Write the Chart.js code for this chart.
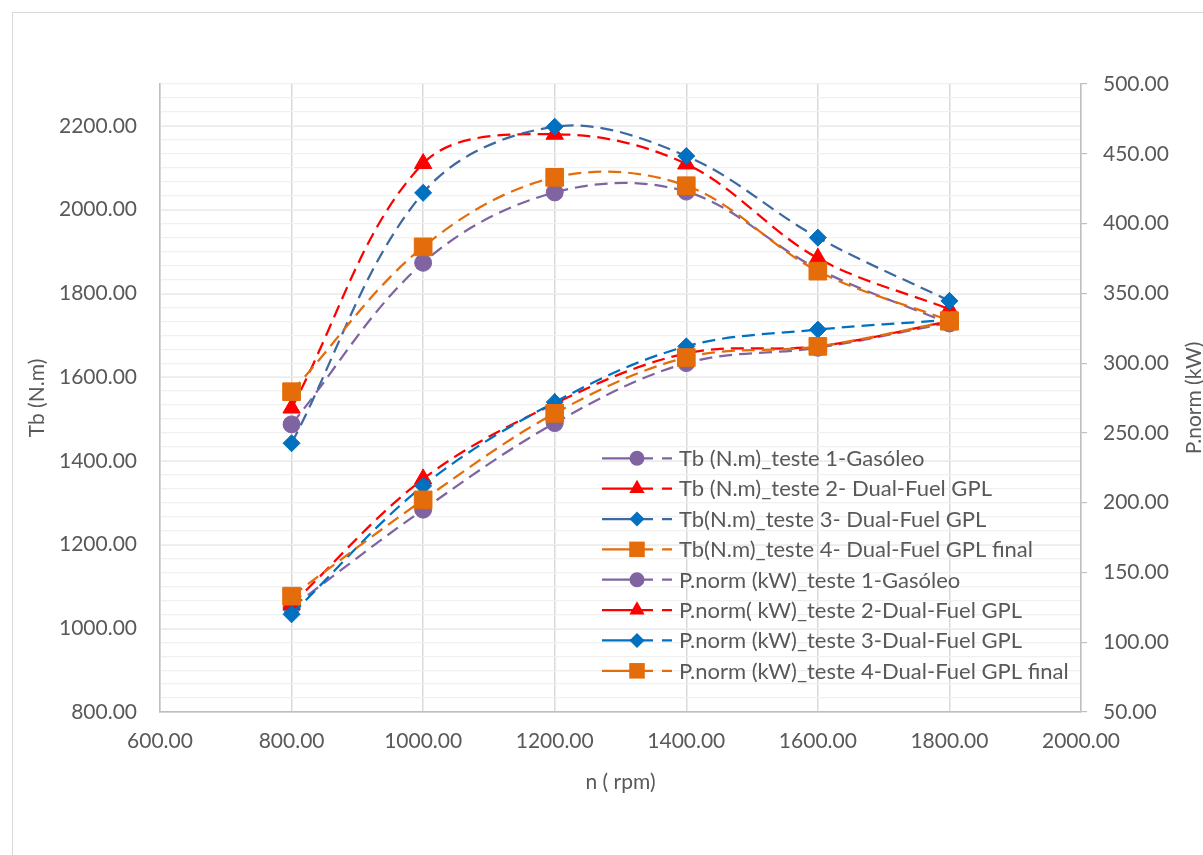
<!DOCTYPE html>
<html>
<head>
<meta charset="utf-8">
<script src="https://cdn.jsdelivr.net/npm/chart.js@4.4.0/dist/chart.umd.min.js"></script>
<style>
  body { margin: 0; background: #fff; }
  canvas { display: block; }
</style>
</head>
<body>
<canvas id="chart" width="1203" height="855"></canvas>
<script>
// rotação (rpm)
const rpm = [800, 1000, 1200, 1400, 1600, 1800];

// binário Tb (N.m) - eixo esquerdo
const tbTeste1 = [1487, 1873, 2041, 2043, 1858, 1728];
const tbTeste2 = [1526, 2110, 2180, 2109, 1884, 1762];
const tbTeste3 = [1442, 2040, 2198, 2128, 1933, 1782];
const tbTeste4 = [1565, 1911, 2077, 2057, 1853, 1735];

// potência P.norm (kW) - eixo direito
const pTeste1 = [125, 195, 257, 300, 311, 329];
const pTeste2 = [127, 217, 271, 307, 312, 330];
const pTeste3 = [120, 212, 272, 312, 324, 331];
const pTeste4 = [133, 202, 264, 304, 312, 330];

const nomes = [
    'Tb (N.m)_teste 1-Gasóleo',
    'Tb (N.m)_teste 2- Dual-Fuel GPL',
    'Tb(N.m)_teste 3- Dual-Fuel GPL',
    'Tb(N.m)_teste 4- Dual-Fuel GPL final',
    'P.norm (kW)_teste 1-Gasóleo',
    'P.norm( kW)_teste 2-Dual-Fuel GPL',
    'P.norm (kW)_teste 3-Dual-Fuel GPL',
    'P.norm (kW)_teste 4-Dual-Fuel GPL final'
];

const FONT = 'Lato';
const TXT = '#595959';

const roxo = '#8064a2';
const vermelho = '#ff0000';
const azulEsc = '#3d69a0';
const azul = '#0070c0';
const laranja = '#e46c0a';

function serie(idx, values, axis, line, marker, style, radius) {
    return {
        label: nomes[idx],
        data: values.map((v, i) => ({ x: rpm[i], y: v })),
        yAxisID: axis,
        borderColor: line,
        borderWidth: 2.25,
        borderDash: [13, 7],
        backgroundColor: marker,
        pointStyle: style,
        pointRadius: radius,
        pointHoverRadius: radius,
        pointBackgroundColor: marker,
        pointBorderColor: marker,
        pointBorderWidth: 1,
        tension: 0.35,
        fill: false,
        order: 8 - idx
    };
}

const datasets = [
    serie(0, tbTeste1, 'y', roxo, roxo, 'circle', 8.5),
    serie(1, tbTeste2, 'y', vermelho, vermelho, 'triangle', 10),
    serie(2, tbTeste3, 'y', azulEsc, azul, 'rectRot', 8.5),
    serie(3, tbTeste4, 'y', laranja, laranja, 'rect', 12.5),
    serie(4, pTeste1, 'y1', roxo, roxo, 'circle', 8.5),
    serie(5, pTeste2, 'y1', vermelho, vermelho, 'triangle', 10),
    serie(6, pTeste3, 'y1', azul, azul, 'rectRot', 8.5),
    serie(7, pTeste4, 'y1', laranja, laranja, 'rect', 12.5)
];

function marcador(ctx, style, x, y, r, color) {
    ctx.save();
    ctx.fillStyle = color;
    ctx.beginPath();
    if (style === 'circle') {
        ctx.arc(x, y, r, 0, Math.PI * 2);
    } else if (style === 'triangle') {
        const a = Math.PI * 2 / 3;
        ctx.moveTo(x, y - r);
        ctx.lineTo(x + Math.sin(a) * r, y - Math.cos(a) * r);
        ctx.lineTo(x - Math.sin(a) * r, y - Math.cos(a) * r);
    } else if (style === 'rectRot') {
        ctx.moveTo(x - r, y);
        ctx.lineTo(x, y - r);
        ctx.lineTo(x + r, y);
        ctx.lineTo(x, y + r);
    } else {
        const s = r * Math.SQRT1_2;
        ctx.rect(x - s, y - s, s * 2, s * 2);
    }
    ctx.closePath();
    ctx.fill();
    ctx.restore();
}

// moldura, título do eixo direito e legenda
const extras = {
    id: 'extras',
    beforeDraw(chart) {
        const ctx = chart.ctx;
        ctx.save();
        ctx.strokeStyle = '#d9d9d9';
        ctx.lineWidth = 1;
        ctx.strokeRect(12.5, 12.5, 1400, 1000);
        ctx.restore();
    },
    afterDraw(chart) {
        const ctx = chart.ctx;
        const area = chart.chartArea;
        ctx.save();
        ctx.font = '21px ' + FONT;
        ctx.fillStyle = TXT;
        ctx.translate(1201, (area.top + area.bottom) / 2);
        ctx.rotate(-Math.PI / 2);
        ctx.textAlign = 'center';
        ctx.textBaseline = 'alphabetic';
        ctx.fillText('P.norm (kW)', 0, 0);
        ctx.restore();

        ctx.save();
        ctx.font = '22px ' + FONT;
        ctx.textAlign = 'left';
        ctx.textBaseline = 'alphabetic';
        chart.data.datasets.forEach((ds, i) => {
            const y = 458.3 + i * 30.36;
            ctx.strokeStyle = ds.borderColor;
            ctx.lineWidth = 2.25;
            ctx.beginPath();
            ctx.moveTo(602, y);
            ctx.lineTo(653, y);
            ctx.moveTo(662, y);
            ctx.lineTo(672, y);
            ctx.stroke();
            marcador(ctx, ds.pointStyle, 637, y, ds.pointRadius * 0.88, ds.pointBackgroundColor);
            ctx.fillStyle = TXT;
            ctx.fillText(ds.label, 679, y + 7.8);
        });
        ctx.restore();
    }
};

const tickFont = { family: FONT, size: 21 };

new Chart(document.getElementById('chart'), {
    type: 'line',
    data: { datasets: datasets },
    options: {
        responsive: false,
        animation: false,
        events: [],
        layout: { padding: { top: 84, left: 0, right: 0, bottom: 0 } },
        plugins: {
            legend: { display: false },
            tooltip: { enabled: false }
        },
        scales: {
            x: {
                type: 'linear',
                min: 600,
                max: 2000,
                ticks: {
                    stepSize: 200,
                    color: TXT,
                    font: tickFont,
                    padding: 17,
                    maxRotation: 0,
                    callback: v => v.toFixed(2)
                },
                grid: { color: '#d9d9d9', lineWidth: 1.5, drawTicks: false },
                border: { color: '#bfbfbf', width: 1.5 },
                title: {
                    display: true,
                    text: 'n ( rpm)',
                    color: TXT,
                    font: tickFont,
                    padding: { top: 0, bottom: 60 }
                },
                afterFit: s => { s.height = 143; }
            },
            y: {
                position: 'left',
                min: 800,
                max: 2300,
                ticks: {
                    stepSize: 200,
                    includeBounds: false,
                    color: TXT,
                    font: tickFont,
                    padding: 23,
                    callback: v => v.toFixed(2)
                },
                grid: { color: '#d9d9d9', lineWidth: 1.5, drawTicks: false },
                border: { color: '#bfbfbf', width: 1.5 },
                title: {
                    display: true,
                    text: 'Tb (N.m)',
                    color: TXT,
                    font: tickFont,
                    padding: { top: 25, bottom: 0 }
                },
                afterFit: s => { s.width = 160; }
            },
            y1: {
                position: 'right',
                min: 50,
                max: 500,
                ticks: {
                    stepSize: 10,
                    autoSkip: false,
                    color: TXT,
                    font: tickFont,
                    padding: 16,
                    callback: v => (v % 50 === 0 ? v.toFixed(2) : '')
                },
                grid: {
                    z: -1,
                    color: '#f0f0f0',
                    lineWidth: 1.2,
                    tickLength: 6,
                    tickColor: c => (c.tick && c.tick.value % 50 === 0 ? '#bfbfbf' : 'rgba(0,0,0,0)')
                },
                border: { color: '#bfbfbf', width: 1.5 },
                afterFit: s => { s.width = 122; }
            }
        }
    },
    plugins: [extras]
});
</script>
</body>
</html>
